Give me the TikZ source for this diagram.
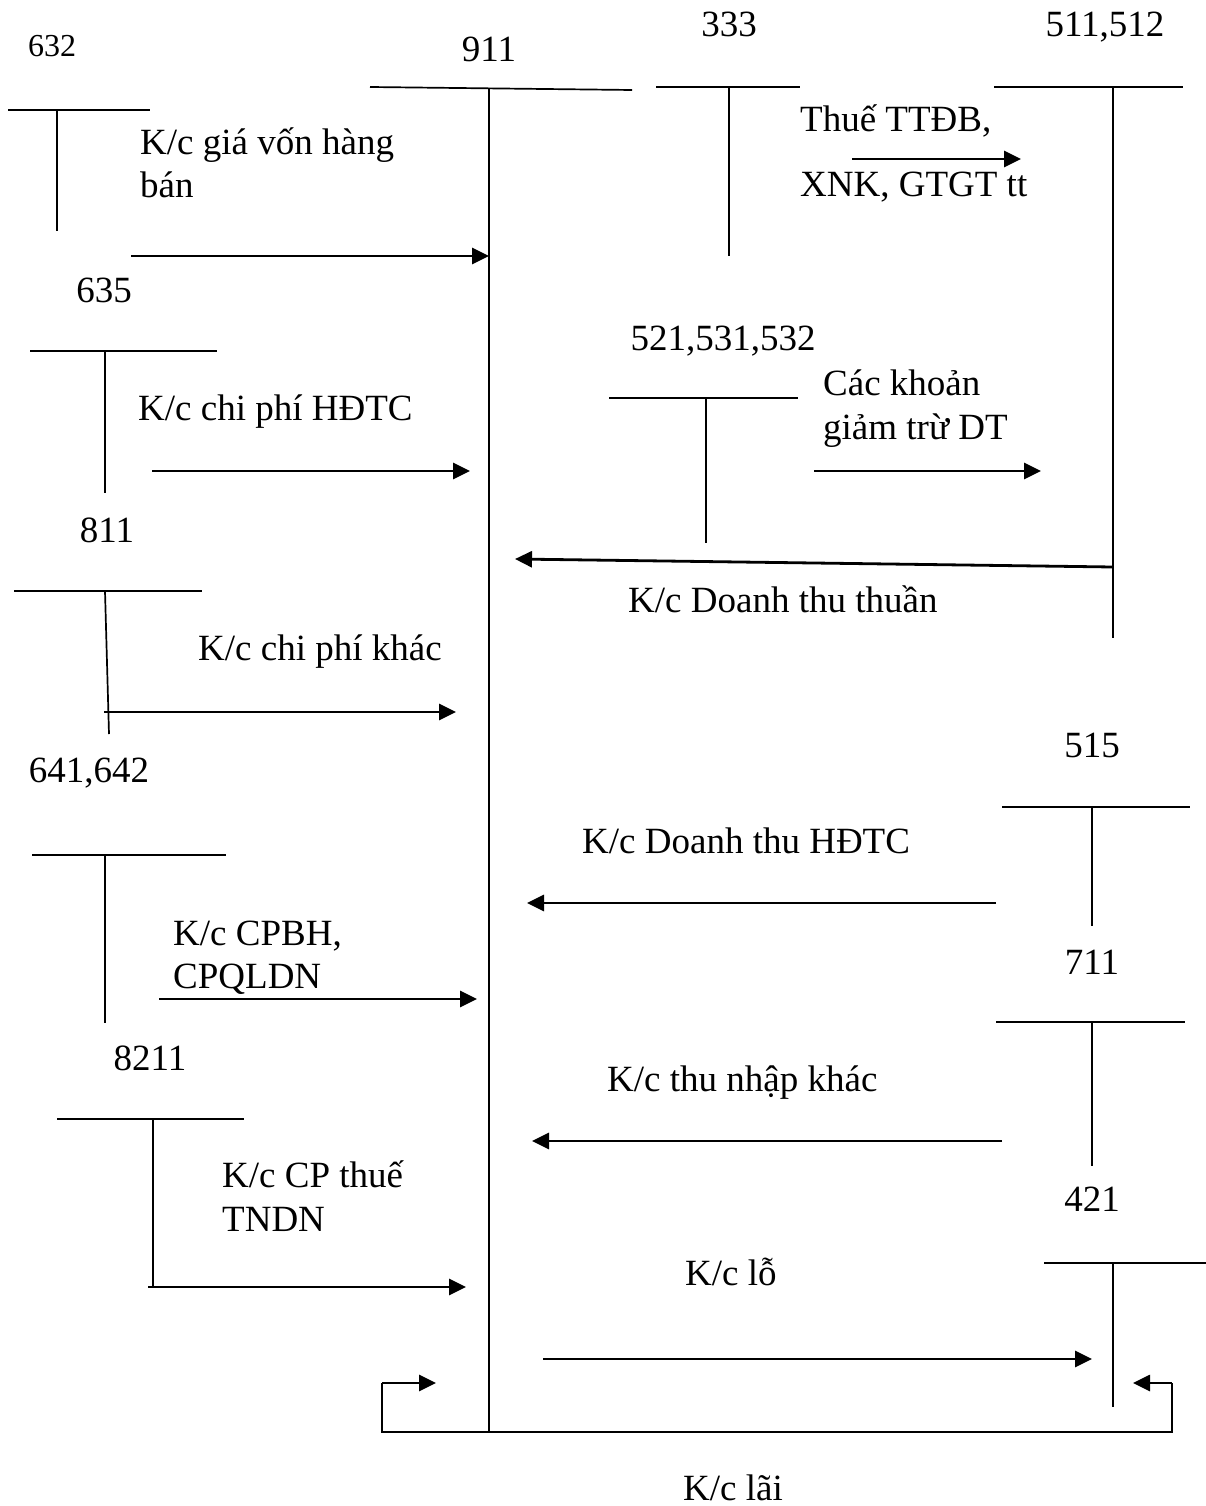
\documentclass[tikz,border=0pt]{standalone}
\usepackage{fontspec}
\setmainfont{Liberation Serif}
\usetikzlibrary{arrows.meta}
\begin{document}
\begin{tikzpicture}[x=1pt,y=-1pt,
  tline/.style={line width=1.7pt},
  arr/.style={line width=2.8pt,-{Triangle[length=17pt,width=16pt]}},
  lbl/.style={anchor=base west,inner sep=0pt,font=\fontsize{37}{43}\selectfont},
  num/.style={anchor=base,inner sep=0pt,font=\fontsize{37}{43}\selectfont},
  smallnum/.style={anchor=base,inner sep=0pt,font=\fontsize{32}{38}\selectfont}]
\useasboundingbox (0,0) rectangle (1206,1506);

% ---------- account 911 ----------
\node[num] (n911) at (489,62) {911};
\coordinate (t911l) at (370,87);
\coordinate (t911r) at (632,90);
\coordinate (t911top) at (489,88);
\coordinate (t911bot) at (489,1432);
\draw[tline] (t911l) -- (t911r);
\draw[tline] (t911top) -- (t911bot);

% ---------- 632 ----------
\node[smallnum] (n632) at (52,57) {632};
\draw[tline] (8,110) -- (150,110);
\draw[tline] (57,110) -- (57,231);
\node[lbl] (l1a) at (140,155) {K/c giá vốn hàng};
\node[lbl] (l1b) at (140,198) {bán};
\coordinate (a1s) at (131,256);
\coordinate (a1e) at (489,256);
\draw[arr] (a1s) -- (a1e);

% ---------- 635 ----------
\node[num] (n635) at (104,302) {635};
\draw[tline] (30,351) -- (217,351);
\draw[tline] (105,351) -- (105,493);
\node[lbl] (l2) at (138,420) {K/c chi phí HĐTC};
\coordinate (a2s) at (152,471);
\coordinate (a2e) at (470,471);
\draw[arr] (a2s) -- (a2e);

% ---------- 811 ----------
\node[num] (n811) at (107,542) {811};
\draw[tline] (14,591) -- (202,591);
\draw[tline] (105,591) -- (109,734);
\node[lbl] (l3) at (198,660) {K/c chi phí khác};
\coordinate (a3s) at (104,712);
\coordinate (a3e) at (456,712);
\draw[arr] (a3s) -- (a3e);

% ---------- 641,642 ----------
\node[num] (n641) at (89,782) {641,642};
\draw[tline] (32,855) -- (226,855);
\draw[tline] (105,855) -- (105,1023);
\node[lbl] (l4a) at (173,945) {K/c CPBH,};
\node[lbl] (l4b) at (173,988) {CPQLDN};
\coordinate (a4s) at (159,999);
\coordinate (a4e) at (477,999);
\draw[arr] (a4s) -- (a4e);

% ---------- 8211 ----------
\node[num] (n8211) at (150,1070) {8211};
\draw[tline] (57,1119) -- (244,1119);
\draw[tline] (153,1119) -- (153,1287);
\node[lbl] (l5a) at (222,1187) {K/c CP thuế};
\node[lbl] (l5b) at (222,1231) {TNDN};
\coordinate (a5s) at (148,1287);
\coordinate (a5e) at (466,1287);
\draw[arr] (a5s) -- (a5e);

% ---------- 333 ----------
\node[num] (n333) at (729,37) {333};
\draw[tline] (656,87) -- (800,87);
\draw[tline] (729,87) -- (729,256);
\node[lbl] (l6a) at (800,132) {Thuế TTĐB,};
\node[lbl] (l6b) at (800,197) {XNK, GTGT tt};
\coordinate (a6s) at (852,159);
\coordinate (a6e) at (1021,159);
\draw[arr] (a6s) -- (a6e);

% ---------- 511,512 ----------
\node[num] (n511) at (1105,37) {511,512};
\draw[tline] (994,87) -- (1183,87);
\draw[tline] (1113,87) -- (1113,638);

% ---------- 521,531,532 ----------
\node[num] (n521) at (723,350) {521,531,532};
\draw[tline] (609,398) -- (798,398);
\draw[tline] (706,398) -- (706,543);
\node[lbl] (l7a) at (823,395) {Các khoản};
\node[lbl] (l7b) at (823,439) {giảm trừ DT};
\coordinate (a7s) at (814,471);
\coordinate (a7e) at (1041,471);
\draw[arr] (a7s) -- (a7e);
\coordinate (a8s) at (1113,567);
\coordinate (a8e) at (515,559);
\draw[arr] (a8s) -- (a8e);
\node[lbl] (l8) at (628,612) {K/c Doanh thu thuần};

% ---------- 515 ----------
\node[num] (n515) at (1092,757) {515};
\draw[tline] (1002,807) -- (1190,807);
\draw[tline] (1092,807) -- (1092,926);
\node[lbl] (l9) at (582,853) {K/c Doanh thu HĐTC};
\coordinate (a9s) at (996,903);
\coordinate (a9e) at (527,903);
\draw[arr] (a9s) -- (a9e);

% ---------- 711 ----------
\node[num] (n711) at (1092,974) {711};
\draw[tline] (996,1022) -- (1185,1022);
\draw[tline] (1092,1022) -- (1092,1166);
\node[lbl] (l10) at (607,1091) {K/c thu nhập khác};
\coordinate (a10s) at (1002,1141);
\coordinate (a10e) at (532,1141);
\draw[arr] (a10s) -- (a10e);

% ---------- 421 ----------
\node[num] (n421) at (1092,1211) {421};
\draw[tline] (1044,1263) -- (1206,1263);
\draw[tline] (1113,1263) -- (1113,1407);
\node[lbl] (l11) at (685,1285) {K/c lỗ};
\coordinate (a11s) at (543,1359);
\coordinate (a11e) at (1092,1359);
\draw[arr] (a11s) -- (a11e);

% ---------- K/c lãi bracket ----------
\coordinate (bl) at (382,1383);
\coordinate (blb) at (382,1432);
\coordinate (brb) at (1172,1432);
\coordinate (br) at (1172,1383);
\coordinate (blt) at (436,1383);
\coordinate (brt) at (1133,1383);
\draw[tline] (bl) -- (blb) -- (brb) -- (br);
\draw[arr] (bl) -- (blt);
\draw[arr] (br) -- (brt);
\node[num] (l12) at (733,1500) {K/c lãi};
\end{tikzpicture}
\end{document}
